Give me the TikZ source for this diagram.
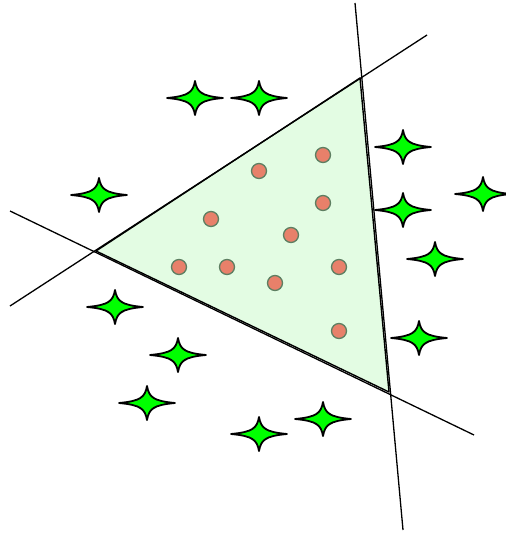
\documentclass[tikz,border=0pt]{standalone}
\usepackage{tikz}
\definecolor{trifill}{HTML}{E3FCE3}
\definecolor{dotfill}{HTML}{E8806A}
\definecolor{dotline}{HTML}{5E7F62}
\definecolor{starfill}{HTML}{00FF00}
\tikzset{
  px/.style={x=1pt,y=-1pt},
  hull/.style={fill=trifill,draw=black,line width=1.4pt,line join=round},
  cutline/.style={draw=black,line width=1.3pt},
  dot/.style={circle,fill=dotfill,draw=dotline,line width=1.3pt,minimum size=15pt,inner sep=0pt},
  starpath/.pic={
    \path[fill=starfill,draw=black,line width=1.8pt,line join=round]
      (28,0) .. controls (6,-2) and (2,-6) .. (0,-17)
      .. controls (-2,-6) and (-6,-2) .. (-28,0)
      .. controls (-6,2) and (-2,6) .. (0,17)
      .. controls (2,6) and (6,2) .. (28,0) -- cycle;
  }
}
\begin{document}
\begin{tikzpicture}[px]
\useasboundingbox (0,0) rectangle (505,534);
% triangle
\coordinate (A) at (96,251);
\coordinate (B) at (360,78);
\coordinate (C) at (389,392);
\path[hull] (A) -- (B) -- (C) -- cycle;
% lines
\coordinate (l1a) at (10,306);
\coordinate (l1b) at (427,35);
\coordinate (l2a) at (10,211);
\coordinate (l2b) at (474,435);
\coordinate (l3a) at (355,3);
\coordinate (l3b) at (403,530);
\draw[cutline] (l1a) -- (l1b);
\draw[cutline] (l2a) -- (l2b);
\draw[cutline] (l3a) -- (l3b);
% dots
\node[dot] (d1) at (323,155) {};
\node[dot] (d2) at (259,171) {};
\node[dot] (d3) at (323,203) {};
\node[dot] (d4) at (211,219) {};
\node[dot] (d5) at (291,235) {};
\node[dot] (d6) at (179,267) {};
\node[dot] (d7) at (227,267) {};
\node[dot] (d8) at (339,267) {};
\node[dot] (d9) at (275,283) {};
\node[dot] (d10) at (339,331) {};
% stars
\foreach \p in {(195,98),(259,98),(403,147),(99,195),(403,210),(483,194),(435,259),(115,307),(419,338),(178,355),(147,403),(323,419),(259,434)}
  \pic at \p {starpath};
\end{tikzpicture}
\end{document}
